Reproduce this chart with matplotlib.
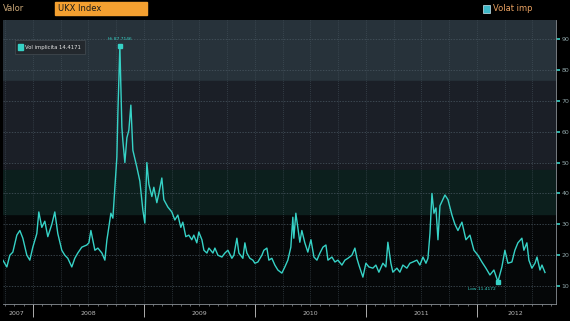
import matplotlib
matplotlib.use("Agg")
import matplotlib.pyplot as plt
from matplotlib.patches import Rectangle
from matplotlib.ticker import FixedLocator

# implied volatility of UKX index (decimal years, level)
years = [
    2007.730, 2007.766, 2007.793, 2007.820, 2007.856, 2007.883, 2007.910, 2007.946, 2007.973,
    2008.000, 2008.036, 2008.054, 2008.081, 2008.108, 2008.135, 2008.171, 2008.198, 2008.225,
    2008.261, 2008.288, 2008.315, 2008.351, 2008.378, 2008.405, 2008.441, 2008.486, 2008.505,
    2008.523, 2008.559, 2008.586, 2008.622, 2008.649, 2008.667, 2008.676, 2008.703, 2008.721,
    2008.739, 2008.757, 2008.766, 2008.784, 2008.802, 2008.811, 2008.829, 2008.847, 2008.865,
    2008.883, 2008.901, 2008.937, 2008.964, 2008.991, 2009.009, 2009.027, 2009.045, 2009.072,
    2009.090, 2009.117, 2009.135, 2009.162, 2009.180, 2009.216, 2009.252, 2009.279, 2009.306,
    2009.333, 2009.351, 2009.378, 2009.405, 2009.432, 2009.450, 2009.477, 2009.495, 2009.523,
    2009.541, 2009.568, 2009.586, 2009.622, 2009.640, 2009.667, 2009.703, 2009.730, 2009.757,
    2009.793, 2009.811, 2009.838, 2009.856, 2009.892, 2009.910, 2009.928, 2009.955, 2009.982,
    2010.000, 2010.027, 2010.063, 2010.081, 2010.108, 2010.126, 2010.153, 2010.180, 2010.207,
    2010.243, 2010.270, 2010.297, 2010.324, 2010.342, 2010.351, 2010.369, 2010.387, 2010.405,
    2010.423, 2010.450, 2010.477, 2010.505, 2010.532, 2010.559, 2010.586, 2010.613, 2010.640,
    2010.658, 2010.694, 2010.721, 2010.748, 2010.784, 2010.811, 2010.838, 2010.874, 2010.901,
    2010.919, 2010.937, 2010.973, 2011.000, 2011.027, 2011.063, 2011.090, 2011.117, 2011.153,
    2011.180, 2011.198, 2011.225, 2011.243, 2011.279, 2011.306, 2011.333, 2011.369, 2011.396,
    2011.423, 2011.459, 2011.486, 2011.514, 2011.541, 2011.559, 2011.577, 2011.595, 2011.613,
    2011.631, 2011.649, 2011.667, 2011.712, 2011.739, 2011.775, 2011.802, 2011.829, 2011.865,
    2011.901, 2011.937, 2011.973, 2012.009, 2012.045, 2012.081, 2012.117, 2012.153, 2012.189,
    2012.225, 2012.252, 2012.279, 2012.315, 2012.342, 2012.369, 2012.405, 2012.423, 2012.450,
    2012.468, 2012.495, 2012.523, 2012.541, 2012.568, 2012.586, 2012.613,
]
vol = [
    18.4, 16.2, 20.0, 21.0, 26.5, 28.0, 25.5, 20.0, 18.4,
    22.6, 27.0, 34.0, 29.0, 31.0, 26.0, 30.0, 34.0, 27.0,
    21.6, 20.0, 19.0, 16.2, 19.0, 20.7, 22.6, 23.3, 24.0,
    28.0, 21.6, 22.3, 20.7, 18.4, 24.9, 27.0, 33.6, 32.0,
    42.0, 51.8, 66.0, 87.7, 61.5, 57.0, 50.0, 58.0, 60.5,
    68.6, 54.0, 48.5, 44.0, 34.6, 30.4, 50.0, 43.0, 39.0,
    42.0, 37.0, 40.0, 45.0, 38.0, 35.6, 34.0, 31.4, 33.0,
    29.0, 30.7, 26.0, 26.5, 25.0, 26.5, 24.0, 27.5, 25.0,
    21.6, 20.7, 22.3, 20.7, 22.3, 20.0, 19.4, 20.7, 21.6,
    19.0, 20.0, 25.5, 20.7, 19.0, 24.0, 20.7, 19.0, 18.4,
    17.4, 17.8, 20.0, 21.6, 22.3, 18.4, 19.0, 16.8, 15.2,
    14.2, 16.2, 18.4, 22.6, 32.3, 25.5, 33.6, 29.0, 24.2,
    28.0, 24.0, 21.0, 25.0, 19.4, 18.4, 20.7, 22.6, 23.3,
    18.4, 19.4, 17.8, 18.4, 16.8, 18.4, 19.0, 20.0, 22.3,
    19.0, 16.8, 12.9, 17.4, 16.2, 15.8, 16.8, 14.5, 17.4,
    16.2, 24.2, 17.4, 14.5, 15.8, 14.5, 16.8, 15.8, 17.4,
    17.8, 18.4, 16.8, 19.4, 17.4, 19.0, 27.0, 40.0, 33.6,
    35.3, 25.0, 36.0, 39.5, 38.0, 33.0, 30.0, 28.0, 30.7,
    25.0, 26.5, 21.6, 20.0, 17.8, 15.8, 13.6, 15.2, 11.4,
    16.2, 21.6, 17.4, 17.8, 21.6, 24.0, 25.5, 21.6, 24.0,
    18.4, 15.8, 17.4, 19.4, 15.2, 16.8, 14.4,
]
year_labels = ["2007", "2008", "2009", "2010", "2011", "2012"]
label_pos = [2007.85, 2008.5, 2009.5, 2010.5, 2011.5, 2012.35]
year_starts = [2008, 2009, 2010, 2011, 2012]
y_ticks = [10, 20, 30, 40, 50, 60, 70, 80, 90]

teal = "#36d2c6"

fig = plt.figure(figsize=(5.7, 3.21), dpi=100)
fig.patch.set_facecolor("black")
ax = fig.add_axes([0.005, 0.053, 0.97, 0.885])
ax.set_facecolor("#050708")
ax.set_xlim(2007.73, 2012.71)
ax.set_ylim(4.2, 96.2)

# background bands
ax.axhspan(76.5, 96.2, color="#27323a", zorder=0)
ax.axhspan(50, 76.5, color="#1b1f27", zorder=0)
ax.axhspan(47.5, 50, color="#181b22", zorder=0)
ax.axhspan(33.5, 47.5, color="#0c1f1d", zorder=0)

# grid
quarters = [2007.75 + 0.25 * i for i in range(20)]
for q in quarters:
    ax.axvline(q, color="#4a5862", lw=0.5, ls=(0, (1, 2)), zorder=1)
for v in y_ticks:
    ax.axhline(v, color="#4a5862", lw=0.5, ls=(0, (2, 2)), zorder=1)

ax.plot(years, vol, color=teal, lw=1.0, zorder=3)

# high / low markers
i_hi = vol.index(max(vol))
i_lo = vol.index(min(vol))
ax.plot(years[i_hi], vol[i_hi], "s", color=teal, ms=3, zorder=4)
ax.text(years[i_hi], vol[i_hi] + 1.8, "Hi 87.7146", color=teal, fontsize=3.2,
        ha="center", va="bottom", zorder=4)
ax.plot(years[i_lo], vol[i_lo], "s", color=teal, ms=3, zorder=4)
ax.text(years[i_lo] - 0.02, vol[i_lo] - 1.8, "Low 11.4172", color=teal, fontsize=3.2,
        ha="right", va="top", zorder=4)

# axes styling
for s in ["top", "left"]:
    ax.spines[s].set_visible(False)
for s in ["right", "bottom"]:
    ax.spines[s].set_color("#8a9096")
    ax.spines[s].set_linewidth(0.6)

ax.yaxis.tick_right()
ax.set_yticks(y_ticks)
ax.set_yticklabels([str(v) for v in y_ticks])
ax.tick_params(axis="y", colors=teal, length=3, width=1.2, labelsize=4.5,
               labelcolor="#8fa5a8", pad=1)

ax.set_xticks(year_starts)
ax.set_xticklabels([])
ax.tick_params(axis="x", which="major", colors="#c8c8c8", length=9, width=0.6)
ax.xaxis.set_minor_locator(FixedLocator(label_pos))
ax.set_xticklabels(year_labels, minor=True)
ax.tick_params(axis="x", which="minor", length=0, labelsize=4.5,
               labelcolor="#b8b8b8", pad=5)

# monthly small ticks along the bottom spine
months = [2007.75 + i / 12 for i in range(60)]
sec = ax.secondary_xaxis("bottom")
sec.set_xticks(months)
sec.set_xticklabels([])
sec.tick_params(colors="#8a9096", length=1.5, width=0.5)
sec.spines["bottom"].set_visible(False)

# header
fig.text(0.006, 0.972, "Valor", color="#cba878", fontsize=6, va="center", ha="left")
fig.patches.append(Rectangle((55 / 570, 1 - 15 / 321), 92 / 570, 13 / 321,
                             transform=fig.transFigure, facecolor="#f4a030",
                             edgecolor="#f4a030", zorder=1))
fig.text(58 / 570, 0.972, "UKX Index", color="#1a1a1a", fontsize=6,
         va="center", ha="left", zorder=2)
fig.patches.append(Rectangle((483 / 570, 1 - 13 / 321), 7 / 570, 8 / 321,
                             transform=fig.transFigure, facecolor="#3fb8c8",
                             edgecolor="#d0e8f0", lw=0.5, zorder=1))
fig.text(493 / 570, 0.972, "Volat imp", color="#e8a060", fontsize=6,
         va="center", ha="left")

# legend box
fig.patches.append(Rectangle((15 / 570, 1 - 54 / 321), 70 / 570, 14 / 321,
                             transform=fig.transFigure, facecolor="#23282d",
                             edgecolor="#454c52", lw=0.5, zorder=5))
fig.patches.append(Rectangle((18 / 570, 1 - 50 / 321), 5 / 570, 6 / 321,
                             transform=fig.transFigure, facecolor=teal,
                             edgecolor=teal, zorder=6))
fig.text(25 / 570, 1 - 47 / 321, "Vol implicita 14.4171", color="#e8e8e8",
         fontsize=3.8, va="center", ha="left", zorder=6)

fig.savefig("out.png", dpi=100, facecolor=fig.get_facecolor())
